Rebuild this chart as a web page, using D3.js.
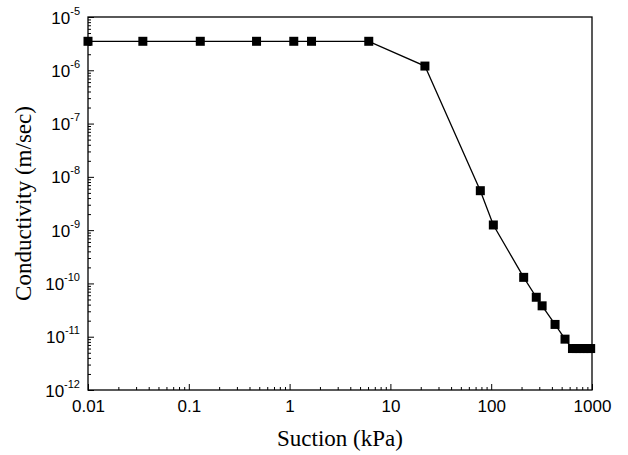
<!DOCTYPE html>
<html><head><meta charset="utf-8">
<script src="https://cdn.jsdelivr.net/npm/d3@7"></script>
<style>body{margin:0;background:#fff}</style>
</head><body>
<svg id="chart" width="628" height="455"></svg>
<script>
// Data
const suction = [0.01, 0.035, 0.13, 0.47, 1.1, 1.65, 6.1, 22, 78, 105, 210, 280, 320, 430, 540, 640, 700, 760, 830, 900, 970];
const conductivity = [3.5e-6, 3.5e-6, 3.5e-6, 3.5e-6, 3.5e-6, 3.5e-6, 3.5e-6, 1.2e-6, 5.5e-9, 1.25e-9, 1.3e-10, 5.5e-11, 3.8e-11, 1.7e-11, 9e-12, 6e-12, 6e-12, 6e-12, 6e-12, 6e-12, 6e-12];
const xTicks = [0.01, 0.1, 1, 10, 100, 1000];
const xTickLabels = ["0.01", "0.1", "1", "10", "100", "1000"];
const yExps = [-12, -11, -10, -9, -8, -7, -6, -5];

const svg = d3.select("#chart");
const m = {left: 88, right: 36, top: 17, bottom: 65};
const W = 628 - m.left - m.right, H = 455 - m.top - m.bottom;
const g = svg.append("g").attr("transform", `translate(${m.left},${m.top})`);

const x = d3.scaleLog().domain([0.01, 1000]).range([0, W]);
const y = d3.scaleLog().domain([1e-12, 1e-5]).range([H, 0]);

// minor ticks
const xMinor = [];
for (let e = -2; e < 3; e++) for (let k = 2; k <= 9; k++) xMinor.push(k * Math.pow(10, e));
const yMinor = [];
for (let e = -12; e < -5; e++) for (let k = 2; k <= 9; k++) yMinor.push(k * Math.pow(10, e));

g.append("g").attr("transform", `translate(0,${H})`)
  .call(d3.axisBottom(x).tickValues(xMinor).tickSize(-3).tickFormat(""));
g.append("g").attr("transform", `translate(0,${H})`)
  .call(d3.axisBottom(x).tickValues(xTicks).tickSize(-6).tickPadding(10)
    .tickFormat((d, i) => xTickLabels[i]))
  .call(a => a.selectAll("text").attr("font-family", "Liberation Sans, Arial").attr("font-size", 17));
g.append("g").call(d3.axisLeft(y).tickValues(yMinor).tickSize(-3).tickFormat(""));
const ya = g.append("g").call(d3.axisLeft(y).tickValues(yExps.map(e => Math.pow(10, e))).tickSize(-6).tickFormat(""));
ya.selectAll(".tick").each(function(d, i) {
  const t = d3.select(this).append("text").attr("x", -8).attr("y", 6)
    .attr("text-anchor", "end").attr("fill", "#000")
    .attr("font-family", "Liberation Sans, Arial").attr("font-size", 17);
  t.append("tspan").text("10");
  t.append("tspan").attr("dy", -9).attr("font-size", 11).text(yExps[i]);
});
g.selectAll(".domain").remove();
g.append("rect").attr("width", W).attr("height", H).attr("fill", "none").attr("stroke", "#000").attr("stroke-width", 1.3);

const pts = suction.map((s, i) => [s, conductivity[i]]);
g.append("path").datum(pts).attr("fill", "none").attr("stroke", "#000").attr("stroke-width", 1.3)
  .attr("d", d3.line().x(d => x(d[0])).y(d => y(d[1])));
g.selectAll("rect.pt").data(pts).join("rect").attr("class", "pt")
  .attr("x", d => x(d[0]) - 4.5).attr("y", d => y(d[1]) - 4.5)
  .attr("width", 9).attr("height", 9).attr("fill", "#000");

svg.append("text").attr("x", m.left + W / 2).attr("y", 446).attr("text-anchor", "middle")
  .attr("font-family", "Liberation Serif, Times New Roman").attr("font-size", 23).text("Suction (kPa)");
svg.append("text").attr("transform", `translate(31,${m.top + H / 2}) rotate(-90)`).attr("text-anchor", "middle")
  .attr("font-family", "Liberation Serif, Times New Roman").attr("font-size", 23).text("Conductivity (m/sec)");
</script>
</body></html>
